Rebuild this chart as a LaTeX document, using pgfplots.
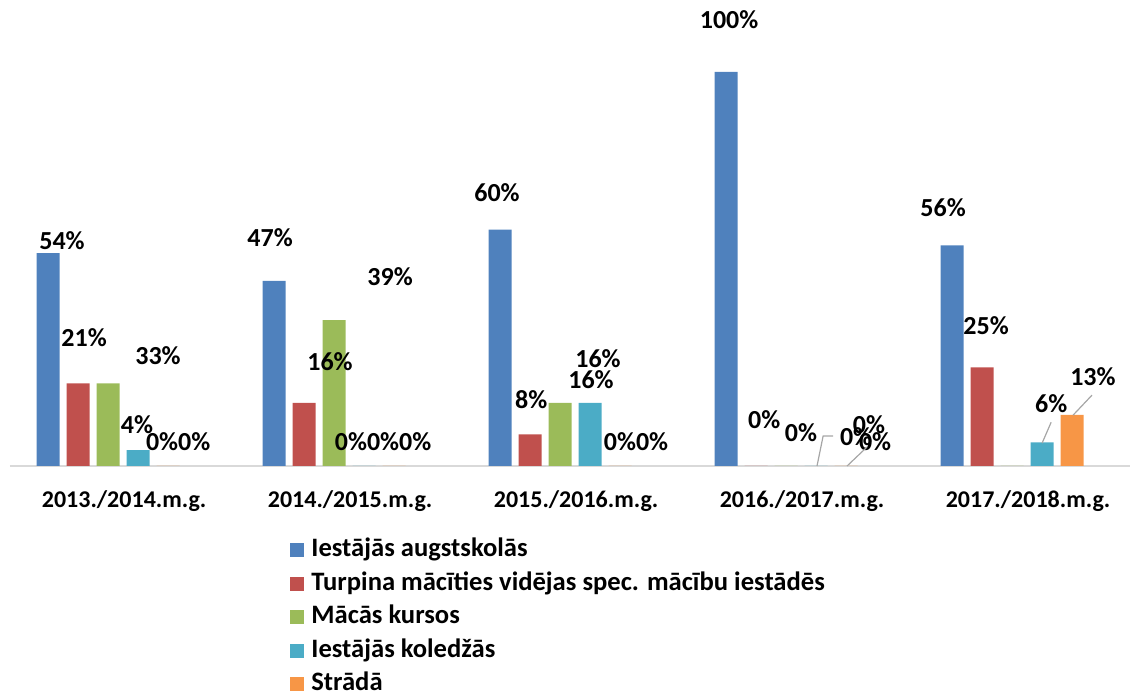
\documentclass[border=0pt]{standalone}
\usepackage{fontspec}
\setmainfont{Carlito}
\usepackage{pgfplots}
\pgfplotsset{compat=1.18}

\definecolor{cblue}{HTML}{4F81BD}
\definecolor{cred}{HTML}{C0504D}
\definecolor{cgreen}{HTML}{9BBB59}
\definecolor{ccyan}{HTML}{4BACC6}
\definecolor{corange}{HTML}{F79646}

\begin{document}
\begin{tikzpicture}[font=\bfseries]
\useasboundingbox (-5pt,-114pt) rectangle (564.5pt,233pt);
\begin{axis}[
  scale only axis, width=560pt, height=197pt,
  ymin=0, ymax=100, xmin=-0.434, xmax=4.522,
  ybar, bar width=0.1018,
  axis y line=none, axis x line*=bottom,
  x axis line style={draw=black!15, line width=1pt, -},
  xtick={0,1,2,3,4}, major tick length=0pt,
  xticklabels={2013./2014.m.g., 2014./2015.m.g., 2015./2016.m.g., 2016./2017.m.g., 2017./2018.m.g.},
  xticklabel style={font=\fontsize{12}{14}\selectfont\bfseries, yshift=-9pt, xshift=8pt},
  clip=false,
  legend style={at={(0.25,-0.1815)}, anchor=north west, draw=none, inner sep=0pt,
    font=\fontsize{13.3}{16}\selectfont\bfseries, row sep=4.25pt,
    nodes={text height=9.5pt, text depth=3pt, inner sep=0pt},
    cells={anchor=west}},
  legend image code/.code={\fill (0pt,-3.5pt) rectangle (7pt,3.5pt);},
  every axis plot/.append style={draw=none},
]
\addplot[fill=cblue, bar shift=-0.2655] coordinates {(0,54)(1,47)(2,60)(3,100)(4,56)};
\addlegendentry{\hspace{3.5pt}Iestājās augstskolās}
\addplot[fill=cred, bar shift=-0.1327] coordinates {(0,21)(1,16)(2,8)(3,0)(4,25)};
\addlegendentry{\hspace{3.5pt}Turpina mācīties vidējas spec. mācību iestādēs}
\addplot[fill=cgreen, bar shift=0] coordinates {(0,21)(1,37)(2,16)(3,0)(4,0)};
\addlegendentry{\hspace{3.5pt}Mācās kursos}
\addplot[fill=ccyan, bar shift=0.1327] coordinates {(0,4)(1,0)(2,16)(3,0)(4,6)};
\addlegendentry{\hspace{3.5pt}Iestājās koledžās}
\addplot[fill=corange, bar shift=0.2655] coordinates {(0,0)(1,0)(2,0)(3,0)(4,13)};
\addlegendentry{\hspace{3.5pt}Strādā}

% data labels where the original chart put them
\begin{scope}[every node/.style={font=\fontsize{13}{15}\selectfont\bfseries, inner sep=0pt}]
\node at (axis cs:-0.204,57.1) {54\%};
\node at (axis cs:-0.106,32.5) {21\%};
\node at (axis cs:0.221,27.9) {33\%};
\node at (axis cs:0.128,10.4) {4\%};
\node at (axis cs:0.31,6.1) {0\%0\%};
\node at (axis cs:0.717,57.9) {47\%};
\node at (axis cs:1.248,48.0) {39\%};
\node at (axis cs:0.982,26.6) {16\%};
\node at (axis cs:1.217,6.1) {0\%0\%0\%};
\node at (axis cs:1.721,69.5) {60\%};
\node at (axis cs:1.872,16.8) {8\%};
\node at (axis cs:2.168,27.2) {16\%};
\node at (axis cs:2.137,21.8) {16\%};
\node at (axis cs:2.336,6.1) {0\%0\%};
\node at (axis cs:2.748,113.2) {100\%};
\node at (axis cs:2.903,11.7) {0\%};
\node at (axis cs:3.066,8.4) {0\%};
\node at (axis cs:3.310,7.4) {0\%};
\node at (axis cs:3.367,10.4) {0\%};
\node at (axis cs:3.394,6.1) {0\%};
\node at (axis cs:3.695,65.5) {56\%};
\node at (axis cs:3.885,35.5) {25\%};
\node at (axis cs:4.173,15.7) {6\%};
\node at (axis cs:4.358,22.6) {13\%};
\end{scope}
\draw[black!35, line width=0.6pt] (axis cs:3.137,0) -- (axis cs:3.164,7.6) -- (axis cs:3.208,7.6);
\draw[black!35, line width=0.6pt] (axis cs:3.270,0) -- (axis cs:3.358,4.8);
\draw[black!35, line width=0.6pt] (axis cs:4.133,5.8) -- (axis cs:4.173,11.1);
\draw[black!35, line width=0.6pt] (axis cs:4.270,12.9) -- (axis cs:4.354,18.0);
\end{axis}
\end{tikzpicture}
\end{document}
